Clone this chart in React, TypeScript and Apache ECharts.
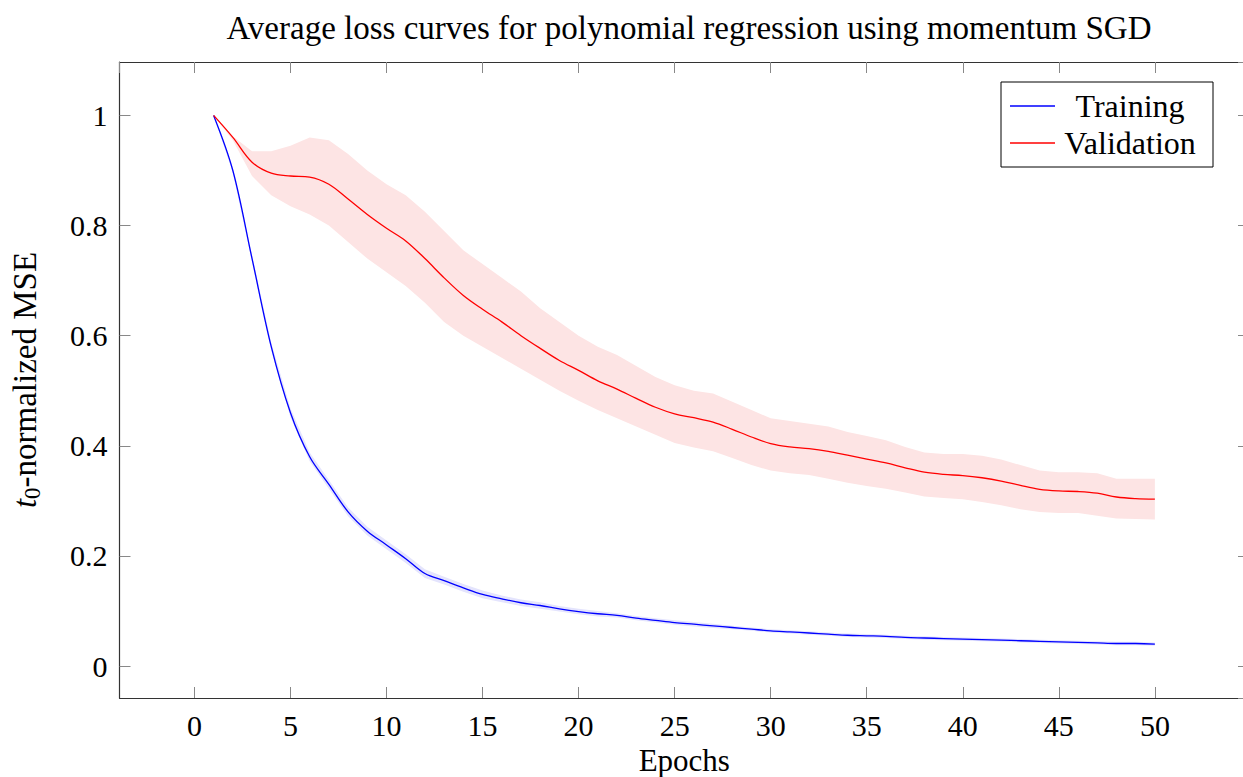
import React, { useEffect, useRef } from "react";
import * as echarts from "echarts";

const epochs = [1,2,3,4,5,6,7,8,9,10,11,12,13,14,15,16,17,18,19,20,21,22,23,24,25,26,27,28,29,30,31,32,33,34,35,36,37,38,39,40,41,42,43,44,45,46,47,48,49,50];

const trainingMean = [1.0,0.90,0.74,0.58,0.46,0.38,0.33,0.28,0.245,0.22,0.195,0.168,0.155,0.142,0.130,0.122,0.115,0.110,0.104,0.099,0.095,0.092,0.087,0.083,0.079,0.076,0.073,0.070,0.067,0.064,0.062,0.060,0.058,0.056,0.055,0.054,0.052,0.051,0.050,0.049,0.048,0.047,0.046,0.045,0.044,0.043,0.042,0.041,0.041,0.040];
const trainingUpper = [1.0,0.904,0.746,0.587,0.468,0.388,0.338,0.288,0.253,0.228,0.203,0.176,0.162,0.149,0.137,0.128,0.121,0.116,0.109,0.104,0.1,0.096,0.091,0.087,0.083,0.08,0.077,0.073,0.07,0.067,0.065,0.063,0.061,0.059,0.058,0.057,0.055,0.054,0.053,0.052,0.051,0.05,0.049,0.048,0.047,0.046,0.045,0.044,0.044,0.043];
const trainingLower = [1.0,0.896,0.734,0.573,0.452,0.372,0.322,0.272,0.237,0.212,0.187,0.16,0.148,0.135,0.123,0.116,0.109,0.104,0.099,0.094,0.09,0.088,0.083,0.079,0.075,0.072,0.069,0.067,0.064,0.061,0.059,0.057,0.055,0.053,0.052,0.051,0.049,0.048,0.047,0.046,0.045,0.044,0.043,0.042,0.041,0.04,0.039,0.038,0.038,0.037];

const validationMean = [1.0,0.96,0.915,0.895,0.89,0.888,0.875,0.848,0.82,0.795,0.772,0.74,0.705,0.673,0.648,0.625,0.60,0.577,0.555,0.537,0.518,0.503,0.486,0.47,0.458,0.451,0.443,0.43,0.416,0.404,0.398,0.395,0.39,0.383,0.376,0.369,0.36,0.352,0.348,0.346,0.342,0.336,0.328,0.321,0.318,0.317,0.314,0.307,0.304,0.303];
const validationUpper = [1.0,0.962,0.935,0.935,0.945,0.96,0.955,0.93,0.90,0.875,0.855,0.825,0.79,0.755,0.73,0.705,0.68,0.65,0.625,0.60,0.58,0.565,0.545,0.525,0.51,0.50,0.495,0.48,0.465,0.45,0.445,0.44,0.435,0.425,0.418,0.41,0.398,0.388,0.385,0.385,0.382,0.375,0.365,0.355,0.352,0.352,0.35,0.34,0.34,0.34];
const validationLower = [1.0,0.955,0.89,0.855,0.835,0.82,0.80,0.77,0.74,0.715,0.69,0.66,0.625,0.60,0.58,0.56,0.54,0.52,0.50,0.482,0.465,0.45,0.435,0.42,0.405,0.397,0.39,0.378,0.365,0.355,0.35,0.347,0.34,0.333,0.327,0.322,0.315,0.308,0.305,0.303,0.298,0.292,0.285,0.28,0.278,0.278,0.273,0.268,0.267,0.266];

const FONT = "Liberation Serif";
const SMOOTH = 0.35;
const X_MIN = -3.9;
const X_MAX = 54.9;
const Y_MIN = -0.058;
const Y_MAX = 1.097;

const pairs = (ys: number[]) => epochs.map((e, i) => [e, ys[i]]);

function bandSeries(name: string, lower: number[], upper: number[], fill: string) {
  return {
    name,
    type: "custom",
    silent: true,
    z: 1,
    clip: true,
    data: epochs.map((e, i) => [e, lower[i], upper[i]]),
    encode: { x: 0, y: [1, 2] },
    renderItem: (params: any, api: any) => {
      if (params.dataIndex !== 0) return null;
      const pts: number[][] = [];
      for (let i = 0; i < epochs.length; i++) pts.push(api.coord([epochs[i], upper[i]]));
      for (let i = epochs.length - 1; i >= 0; i--) pts.push(api.coord([epochs[i], lower[i]]));
      return {
        type: "polygon",
        shape: { points: pts },
        style: { fill, stroke: null },
      };
    },
  };
}

export default function App() {
  const ref = useRef<HTMLDivElement>(null);
  useEffect(() => {
    if (!ref.current) return;
    const chart = echarts.init(ref.current, undefined, { renderer: "svg" });
    const xBase = {
      type: "value",
      min: X_MIN,
      max: X_MAX,
      splitNumber: 12,
      minInterval: 5,
      maxInterval: 5,
      splitLine: { show: false },
      axisLine: { show: true, onZero: false, lineStyle: { color: "#333", width: 1.2 } },
      axisTick: { show: true, inside: true, length: 11, lineStyle: { color: "#888", width: 1 } },
    };
    const yBase = {
      type: "value",
      min: Y_MIN,
      max: Y_MAX,
      splitNumber: 6,
      minInterval: 0.2,
      maxInterval: 0.2,
      splitLine: { show: false },
      axisLine: { show: true, onZero: false, lineStyle: { color: "#333", width: 1.2 } },
      axisTick: { show: true, inside: true, length: 11, lineStyle: { color: "#888", width: 1 } },
    };
    const option: any = {
      animation: false,
      textStyle: { fontFamily: FONT },
      title: {
        text: "Average loss curves for polynomial regression using momentum SGD",
        left: 684,
        top: 6,
        textAlign: "center",
        textStyle: { fontFamily: FONT, fontSize: 33, fontWeight: "normal", color: "#000" },
      },
      legend: {
        data: ["Training", "Validation"],
        orient: "vertical",
        left: 1001,
        top: 82,
        backgroundColor: "#fff",
        borderColor: "#000",
        borderWidth: 1,
        borderRadius: 0,
        padding: [8, 13, 8, 9],
        itemWidth: 45,
        itemHeight: 1.5,
        itemGap: 5,
        icon: "rect",
        formatter: "{c|{name}}",
        textStyle: {
          fontFamily: FONT,
          fontSize: 32,
          color: "#000",
          rich: { c: { fontFamily: FONT, fontSize: 32, color: "#000", width: 140, align: "center", lineHeight: 36 } },
        },
      },
      grid: { left: 119.5, top: 62, width: 1129.5, height: 636, outerBoundsMode: "none", containLabel: false },
      xAxis: [
        {
          ...xBase,
          position: "bottom",
          name: "Epochs",
          nameLocation: "middle",
          nameGap: 43,
          nameTextStyle: { fontFamily: FONT, fontSize: 31, color: "#000" },
          axisLabel: { showMinLabel: false, showMaxLabel: false, fontFamily: FONT, fontSize: 30, color: "#000", margin: 12 },
        },
        { ...xBase, position: "top", axisLabel: { show: false } },
      ],
      yAxis: [
        {
          ...yBase,
          position: "left",
          name: "{it|t}{sub|0}{n|-normalized MSE}",
          nameLocation: "middle",
          nameGap: 76,
          nameRotate: 90,
          nameTextStyle: {
            fontFamily: FONT,
            fontSize: 33,
            color: "#000",
            rich: {
              it: { fontFamily: FONT, fontSize: 33, fontStyle: "italic", color: "#000", lineHeight: 38 },
              sub: { fontFamily: FONT, fontSize: 23, color: "#000", verticalAlign: "bottom", lineHeight: 38 },
              n: { fontFamily: FONT, fontSize: 33, color: "#000", lineHeight: 38 },
            },
          },
          axisLabel: { showMinLabel: false, showMaxLabel: false, fontFamily: FONT, fontSize: 30, color: "#000", margin: 12 },
        },
        { ...yBase, position: "right", axisLabel: { show: false } },
      ],
      series: [
        bandSeries("Validation band", validationLower, validationUpper, "#fde4e4"),
        bandSeries("Training band", trainingLower, trainingUpper, "#e4e4fd"),
        {
          name: "Training",
          type: "line",
          data: pairs(trainingMean),
          smooth: SMOOTH,
          showSymbol: false,
          color: "#0000ff",
          lineStyle: { color: "#0000ff", width: 1.3 },
          z: 3,
        },
        {
          name: "Validation",
          type: "line",
          data: pairs(validationMean),
          smooth: SMOOTH,
          showSymbol: false,
          color: "#ff0000",
          lineStyle: { color: "#ff0000", width: 1.3 },
          z: 3,
        },
      ],
    };
    chart.setOption(option);
    return () => chart.dispose();
  }, []);
  return (
    <div
      ref={ref}
      style={{ position: "absolute", left: 0, top: 0, width: 1243, height: 777, background: "#fff" }}
    />
  );
}
